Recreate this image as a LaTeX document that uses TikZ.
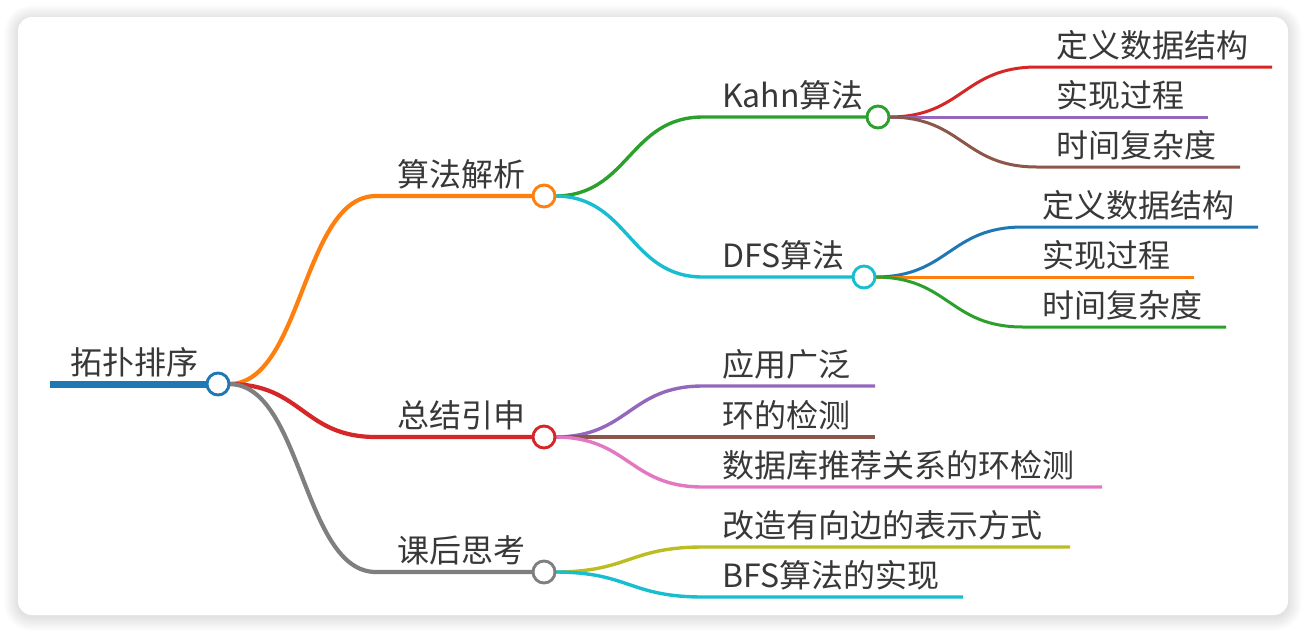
\documentclass[tikz,border=0pt]{standalone}
\usepackage{fontspec}
\setmainfont{Noto Sans CJK SC}
\definecolor{c0}{HTML}{1F77B4}
\definecolor{c1}{HTML}{FF7F0E}
\definecolor{c2}{HTML}{2CA02C}
\definecolor{c3}{HTML}{D62728}
\definecolor{c4}{HTML}{9467BD}
\definecolor{c5}{HTML}{8C564B}
\definecolor{c6}{HTML}{E377C2}
\definecolor{c7}{HTML}{7F7F7F}
\definecolor{c8}{HTML}{BCBD22}
\definecolor{c9}{HTML}{17BECF}
\definecolor{txt}{HTML}{383838}
\begin{document}
\begin{tikzpicture}[x=1pt,y=-1pt,
  lbl/.style={anchor=base west, inner sep=0pt, text=txt, font=\fontsize{32}{38}\selectfont},
  dot/.style={circle, draw, fill=white, line width=2.9pt, minimum size=22pt, inner sep=0pt},
  l0/.style={line width=7pt},
  l1/.style={line width=4.2pt},
  l2/.style={line width=3.4pt},
  l3/.style={line width=3pt},
]
\useasboundingbox (0,0) rectangle (1306,633);
\fill[white] (0,0) rectangle (1306,633);
% shadow
\foreach \k [evaluate=\k as \rr using 14+\k] in {1,...,14}
  \fill[black, opacity=0.007, rounded corners=\rr pt] (18-\k,19-\k) rectangle (1288+\k,617+\k);
\fill[white, rounded corners=14pt] (18,17) rectangle (1288,615);

% centres
\coordinate (r0) at (50,384);
\coordinate (r) at (218,384);
\coordinate (a) at (544,196);
\coordinate (b) at (544,437);
\coordinate (c) at (544,572);
\coordinate (ka) at (878,117);
\coordinate (df) at (864,277);
% bends
\coordinate (rs) at (229,384);
\coordinate (a0) at (376,196);
\coordinate (b0) at (376,437);
\coordinate (c0p) at (376,572);
\coordinate (as) at (555,196);
\coordinate (bs) at (555,437);
\coordinate (cs) at (555,572);
\coordinate (ka0) at (703,117);
\coordinate (df0) at (703,277);
\coordinate (b10) at (703,386); \coordinate (b1e) at (875,386);
\coordinate (b2e) at (875,437);
\coordinate (b30) at (703,487); \coordinate (b3e) at (1102,487);
\coordinate (c10) at (703,547); \coordinate (c1e) at (1070,547);
\coordinate (c20) at (703,597); \coordinate (c2e) at (963,597);
\coordinate (kas) at (889,117);
\coordinate (k10) at (1037,67); \coordinate (k1e) at (1272,67);
\coordinate (k2e) at (1208,117);
\coordinate (k30) at (1037,167); \coordinate (k3e) at (1240,167);
\coordinate (dfs) at (875,277);
\coordinate (d10) at (1023,227); \coordinate (d1e) at (1258,227);
\coordinate (d2e) at (1194,277);
\coordinate (d30) at (1023,327); \coordinate (d3e) at (1226,327);

% root
\draw[c0, l0] (r0) -- (r);
% level 1
\draw[c1, l1] (rs) .. controls (302.5,384) and (302.5,196) .. (a0) -- (a);
\draw[c3, l1] (rs) .. controls (302.5,384) and (302.5,437) .. (b0) -- (b);
\draw[c7, l1] (rs) .. controls (302.5,384) and (302.5,572) .. (c0p) -- (c);
% level 2
\draw[c2, l2] (as) .. controls (629,196) and (629,117) .. (ka0) -- (ka);
\draw[c9, l2] (as) .. controls (629,196) and (629,277) .. (df0) -- (df);
\draw[c4, l2] (bs) .. controls (629,437) and (629,386) .. (b10) -- (b1e);
\draw[c5, l2] (bs) -- (b2e);
\draw[c6, l2] (bs) .. controls (629,437) and (629,487) .. (b30) -- (b3e);
\draw[c8, l2] (cs) .. controls (629,572) and (629,547) .. (c10) -- (c1e);
\draw[c9, l2] (cs) .. controls (629,572) and (629,597) .. (c20) -- (c2e);
% level 3
\draw[c3, l3] (kas) .. controls (963,117) and (963,67) .. (k10) -- (k1e);
\draw[c4, l3] (kas) -- (k2e);
\draw[c5, l3] (kas) .. controls (963,117) and (963,167) .. (k30) -- (k3e);
\draw[c0, l3] (dfs) .. controls (949,277) and (949,227) .. (d10) -- (d1e);
\draw[c1, l3] (dfs) -- (d2e);
\draw[c2, l3] (dfs) .. controls (949,277) and (949,327) .. (d30) -- (d3e);

% circles
\node[dot, draw=c0] (nr) at (r) {};
\node[dot, draw=c1] (na) at (a) {};
\node[dot, draw=c3] (nb) at (b) {};
\node[dot, draw=c7] (nc) at (c) {};
\node[dot, draw=c2] (nka) at (ka) {};
\node[dot, draw=c9] (ndf) at (df) {};

% labels
\node[lbl] (tr) at (70,374.5) {拓扑排序};
\node[lbl] (ta) at (397,186.5) {算法解析};
\node[lbl] (tb) at (397,427.5) {总结引申};
\node[lbl] (tc) at (397,562.5) {课后思考};
\node[lbl] (tka) at (722,107.5) {Kahn算法};
\node[lbl] (tdf) at (722,267.5) {DFS算法};
\node[lbl] (tb1) at (722,376.5) {应用广泛};
\node[lbl] (tb2) at (722,427.5) {环的检测};
\node[lbl] (tb3) at (722,477.5) {数据库推荐关系的环检测};
\node[lbl] (tc1) at (722,537.5) {改造有向边的表示方式};
\node[lbl] (tc2) at (722,587.5) {BFS算法的实现};
\node[lbl] (tk1) at (1056,57.5) {定义数据结构};
\node[lbl] (tk2) at (1056,107.5) {实现过程};
\node[lbl] (tk3) at (1056,157.5) {时间复杂度};
\node[lbl] (td1) at (1042,217.5) {定义数据结构};
\node[lbl] (td2) at (1042,267.5) {实现过程};
\node[lbl] (td3) at (1042,317.5) {时间复杂度};
\end{tikzpicture}
\end{document}
